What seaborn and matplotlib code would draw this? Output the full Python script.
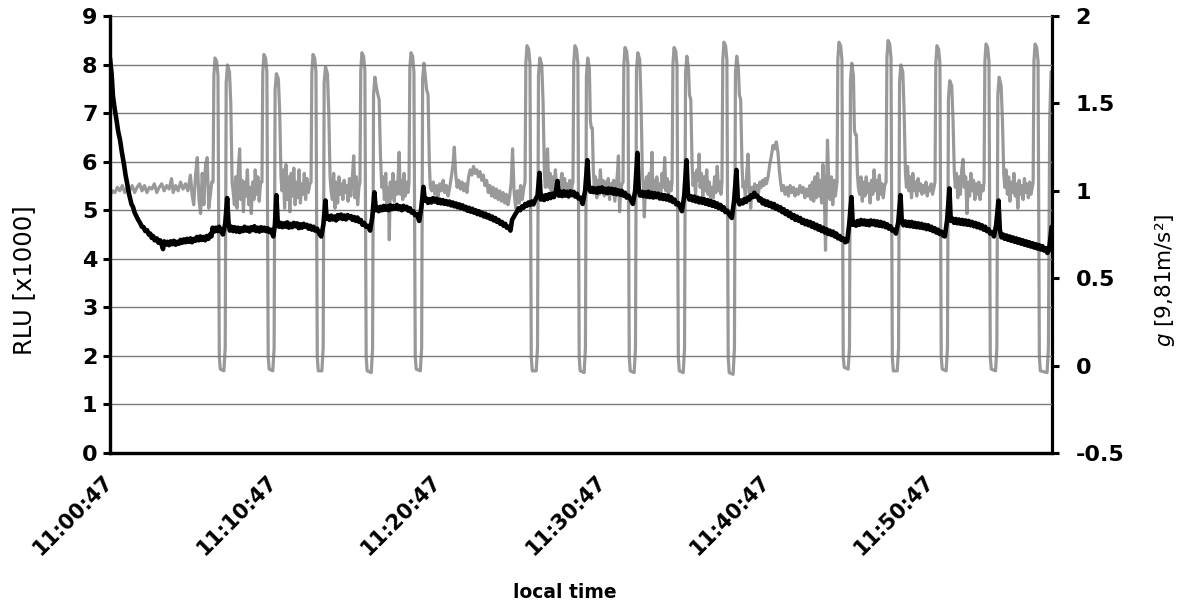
import matplotlib
matplotlib.use("Agg")
import matplotlib.pyplot as plt
import seaborn as sns
import pandas as pd

# ---------------- data ----------------
# time axis: minutes after 11:00:47
tick_minutes = [0, 10, 20, 30, 40, 50]
tick_labels = ["11:00:47", "11:10:47", "11:20:47", "11:30:47", "11:40:47", "11:50:47"]

# RLU [x1000] (black, left axis): (minutes, value)
rlu_points = [
    (0.00, 8.13), (0.10, 7.80), (0.18, 7.35), (0.28, 7.10), (0.40, 6.85), (0.50, 6.62), (0.61, 6.45),
    (0.72, 6.20), (0.85, 5.95), (0.95, 5.72), (1.04, 5.56), (1.13, 5.38), (1.22, 5.25), (1.31, 5.12),
    (1.40, 5.07), (1.50, 4.95), (1.60, 4.88), (1.72, 4.80), (1.83, 4.74), (1.94, 4.66), (2.05, 4.65),
    (2.15, 4.57), (2.26, 4.59), (2.36, 4.50), (2.45, 4.52), (2.54, 4.43), (2.62, 4.47), (2.72, 4.38),
    (2.85, 4.42), (2.95, 4.33), (3.05, 4.38), (3.14, 4.30), (3.23, 4.20), (3.30, 4.36), (3.40, 4.29),
    (3.50, 4.35), (3.60, 4.28), (3.70, 4.36), (3.80, 4.30), (3.90, 4.37), (4.00, 4.29), (4.10, 4.35),
    (4.20, 4.31), (4.30, 4.39), (4.40, 4.33), (4.50, 4.40), (4.60, 4.34), (4.70, 4.41), (4.80, 4.35),
    (4.90, 4.42), (5.00, 4.34), (5.10, 4.41), (5.20, 4.37), (5.30, 4.45), (5.40, 4.38), (5.50, 4.46),
    (5.60, 4.39), (5.70, 4.45), (5.80, 4.38), (5.90, 4.47), (6.00, 4.41), (6.10, 4.50), (6.18, 4.46),
    (6.25, 4.64), (6.35, 4.56), (6.45, 4.64), (6.55, 4.57), (6.65, 4.66), (6.75, 4.58),
    (6.88, 4.50), (7.02, 4.72), (7.14, 5.25), (7.22, 4.75),
    (7.30, 4.58), (7.40, 4.66), (7.50, 4.57), (7.60, 4.65), (7.70, 4.56), (7.80, 4.64), (7.90, 4.55),
    (8.00, 4.63), (8.10, 4.57), (8.20, 4.66), (8.30, 4.58), (8.40, 4.64), (8.50, 4.56), (8.60, 4.65),
    (8.70, 4.59), (8.80, 4.67), (8.90, 4.57), (9.00, 4.64), (9.10, 4.56), (9.20, 4.65), (9.30, 4.58),
    (9.40, 4.64), (9.50, 4.57), (9.60, 4.63), (9.70, 4.55), (9.80, 4.60),
    (9.95, 4.46), (10.05, 4.70), (10.14, 5.31), (10.22, 4.75),
    (10.30, 4.66), (10.40, 4.74), (10.50, 4.65), (10.60, 4.73), (10.70, 4.66), (10.80, 4.75),
    (10.90, 4.64), (11.00, 4.72), (11.10, 4.65), (11.20, 4.74), (11.30, 4.67), (11.40, 4.73),
    (11.50, 4.63), (11.60, 4.71), (11.70, 4.64), (11.80, 4.72), (11.90, 4.66), (12.00, 4.70),
    (12.10, 4.62), (12.20, 4.68), (12.30, 4.60), (12.40, 4.66), (12.50, 4.58), (12.62, 4.62),
    (12.74, 4.52),
    (12.87, 4.46), (13.00, 4.70), (13.13, 5.20), (13.20, 4.82),
    (13.28, 4.88), (13.38, 4.80), (13.48, 4.89), (13.58, 4.81), (13.68, 4.87), (13.78, 4.79),
    (13.88, 4.90), (13.98, 4.83), (14.08, 4.91), (14.18, 4.82), (14.28, 4.89), (14.38, 4.81),
    (14.48, 4.90), (14.58, 4.84), (14.68, 4.88), (14.78, 4.80), (14.88, 4.86), (14.98, 4.78),
    (15.08, 4.85), (15.18, 4.76), (15.28, 4.80), (15.38, 4.70), (15.48, 4.74), (15.60, 4.66),
    (15.72, 4.68),
    (15.85, 4.58), (15.98, 4.85), (16.11, 5.37), (16.20, 5.00),
    (16.28, 5.06), (16.38, 4.98), (16.48, 5.07), (16.58, 5.00), (16.68, 5.09), (16.78, 5.01),
    (16.88, 5.08), (16.98, 5.00), (17.08, 5.10), (17.18, 5.02), (17.28, 5.09), (17.38, 5.03),
    (17.48, 5.11), (17.58, 5.02), (17.68, 5.08), (17.78, 5.00), (17.88, 5.09), (17.98, 5.02),
    (18.08, 5.07), (18.18, 4.99), (18.28, 5.04), (18.38, 4.95), (18.48, 4.98), (18.58, 4.90),
    (18.70, 4.92),
    (18.84, 4.78), (18.97, 5.05), (19.10, 5.48), (19.18, 5.20),
    (19.28, 5.24), (19.38, 5.15), (19.48, 5.23), (19.58, 5.16), (19.68, 5.25), (19.78, 5.18),
    (19.88, 5.24), (19.98, 5.15), (20.08, 5.22), (20.18, 5.14), (20.28, 5.21), (20.38, 5.13),
    (20.48, 5.19), (20.58, 5.12), (20.68, 5.18), (20.78, 5.10), (20.88, 5.16), (20.98, 5.08),
    (21.08, 5.14), (21.18, 5.06), (21.28, 5.12), (21.38, 5.04), (21.48, 5.10), (21.58, 5.02),
    (21.68, 5.07), (21.78, 4.99), (21.88, 5.05), (21.98, 4.97), (22.08, 5.03), (22.18, 4.95),
    (22.28, 5.00), (22.38, 4.92), (22.48, 4.98), (22.58, 4.90), (22.68, 4.95), (22.78, 4.87),
    (22.88, 4.93), (22.98, 4.85), (23.08, 4.90), (23.18, 4.82), (23.28, 4.87), (23.38, 4.79),
    (23.48, 4.84), (23.58, 4.76), (23.68, 4.80), (23.78, 4.72), (23.88, 4.76), (23.98, 4.68),
    (24.08, 4.72), (24.18, 4.64), (24.28, 4.66), (24.40, 4.58), (24.50, 4.80), (24.60, 4.86),
    (24.70, 4.92), (24.80, 4.97), (24.90, 5.04), (25.00, 5.00), (25.10, 5.08), (25.20, 5.05),
    (25.30, 5.13), (25.40, 5.09), (25.50, 5.16), (25.60, 5.11), (25.70, 5.18), (25.80, 5.12),
    (25.92, 5.22),
    (26.05, 5.30), (26.17, 5.77), (26.25, 5.22),
    (26.35, 5.30), (26.45, 5.21), (26.55, 5.31), (26.65, 5.23), (26.75, 5.33), (26.85, 5.25),
    (26.95, 5.34), (27.05, 5.27), (27.18, 5.40), (27.26, 5.60), (27.35, 5.30), (27.45, 5.38),
    (27.55, 5.29), (27.65, 5.39), (27.75, 5.30), (27.85, 5.38), (27.95, 5.29), (28.05, 5.39),
    (28.15, 5.31), (28.25, 5.38), (28.35, 5.28), (28.45, 5.34), (28.55, 5.24), (28.68, 5.26),
    (28.80, 5.13), (28.95, 5.40), (29.09, 6.03), (29.18, 5.45),
    (29.28, 5.38), (29.38, 5.46), (29.48, 5.37), (29.58, 5.45), (29.68, 5.36), (29.78, 5.46),
    (29.88, 5.38), (29.98, 5.47), (30.08, 5.37), (30.18, 5.44), (30.28, 5.35), (30.38, 5.45),
    (30.48, 5.36), (30.58, 5.44), (30.68, 5.34), (30.78, 5.43), (30.88, 5.33), (30.98, 5.41),
    (31.08, 5.32), (31.18, 5.40), (31.28, 5.30), (31.38, 5.36), (31.48, 5.26), (31.60, 5.30),
    (31.72, 5.22),
    (31.86, 5.13), (32.00, 5.40), (32.14, 6.18), (32.22, 5.40),
    (32.30, 5.30), (32.40, 5.38), (32.50, 5.29), (32.60, 5.37), (32.70, 5.28), (32.80, 5.38),
    (32.90, 5.27), (33.00, 5.36), (33.10, 5.26), (33.20, 5.35), (33.30, 5.27), (33.40, 5.34),
    (33.50, 5.24), (33.60, 5.32), (33.70, 5.23), (33.80, 5.31), (33.90, 5.22), (34.00, 5.30),
    (34.10, 5.20), (34.20, 5.27), (34.30, 5.17), (34.40, 5.22), (34.50, 5.12), (34.62, 5.15),
    (34.74, 5.06),
    (34.85, 4.98), (34.99, 5.30), (35.13, 6.03), (35.22, 5.30),
    (35.30, 5.22), (35.40, 5.29), (35.50, 5.20), (35.60, 5.28), (35.70, 5.18), (35.80, 5.26),
    (35.90, 5.16), (36.00, 5.24), (36.10, 5.15), (36.20, 5.23), (36.30, 5.13), (36.40, 5.21),
    (36.50, 5.11), (36.60, 5.19), (36.70, 5.09), (36.80, 5.17), (36.90, 5.07), (37.00, 5.14),
    (37.10, 5.04), (37.20, 5.11), (37.30, 5.01), (37.40, 5.06), (37.50, 4.96), (37.62, 4.99),
    (37.75, 4.90),
    (37.89, 4.84), (38.03, 5.20), (38.17, 5.83), (38.26, 5.20),
    (38.36, 5.12), (38.46, 5.20), (38.56, 5.14), (38.66, 5.23), (38.76, 5.17), (38.86, 5.26),
    (38.96, 5.22), (39.06, 5.31), (39.16, 5.27), (39.26, 5.36), (39.36, 5.28), (39.46, 5.30),
    (39.56, 5.20), (39.66, 5.24), (39.76, 5.14), (39.86, 5.20), (39.96, 5.11), (40.06, 5.18),
    (40.16, 5.09), (40.26, 5.15), (40.36, 5.06), (40.46, 5.13), (40.56, 5.03), (40.66, 5.09),
    (40.76, 5.00), (40.86, 5.06), (40.96, 4.96), (41.06, 5.02), (41.16, 4.92), (41.26, 4.98),
    (41.36, 4.88), (41.46, 4.94), (41.56, 4.84), (41.66, 4.90), (41.76, 4.80), (41.86, 4.87),
    (41.96, 4.78), (42.06, 4.84), (42.16, 4.74), (42.26, 4.80), (42.36, 4.71), (42.46, 4.78),
    (42.56, 4.69), (42.66, 4.76), (42.76, 4.66), (42.86, 4.73), (42.96, 4.63), (43.06, 4.70),
    (43.16, 4.60), (43.26, 4.67), (43.36, 4.57), (43.46, 4.64), (43.56, 4.54), (43.66, 4.61),
    (43.76, 4.51), (43.86, 4.58), (43.96, 4.49), (44.06, 4.56), (44.16, 4.46), (44.26, 4.52),
    (44.36, 4.42), (44.46, 4.47), (44.56, 4.39), (44.68, 4.42), (44.80, 4.34),
    (44.92, 4.36), (45.04, 4.70), (45.18, 5.27), (45.26, 4.70),
    (45.36, 4.76), (45.46, 4.68), (45.56, 4.78), (45.66, 4.70), (45.76, 4.80), (45.86, 4.71),
    (45.96, 4.79), (46.06, 4.70), (46.16, 4.78), (46.26, 4.69), (46.36, 4.79), (46.46, 4.71),
    (46.56, 4.78), (46.66, 4.69), (46.76, 4.77), (46.86, 4.68), (46.96, 4.76), (47.06, 4.67),
    (47.16, 4.74), (47.26, 4.65), (47.36, 4.71), (47.46, 4.62), (47.56, 4.67), (47.66, 4.58),
    (47.78, 4.60),
    (47.89, 4.52), (48.03, 4.75), (48.17, 5.31), (48.25, 4.75),
    (48.35, 4.69), (48.45, 4.77), (48.55, 4.68), (48.65, 4.76), (48.75, 4.67), (48.85, 4.76),
    (48.95, 4.66), (49.05, 4.74), (49.15, 4.65), (49.25, 4.73), (49.35, 4.64), (49.45, 4.72),
    (49.55, 4.63), (49.65, 4.70), (49.75, 4.61), (49.85, 4.69), (49.95, 4.60), (50.05, 4.66),
    (50.15, 4.57), (50.25, 4.63), (50.35, 4.54), (50.45, 4.60), (50.55, 4.51), (50.65, 4.56),
    (50.76, 4.48),
    (50.87, 4.46), (51.01, 4.80), (51.15, 5.45), (51.23, 4.78),
    (51.33, 4.83), (51.43, 4.74), (51.53, 4.82), (51.63, 4.73), (51.73, 4.81), (51.83, 4.72),
    (51.93, 4.80), (52.03, 4.71), (52.13, 4.79), (52.23, 4.70), (52.33, 4.78), (52.43, 4.69),
    (52.53, 4.76), (52.63, 4.67), (52.73, 4.74), (52.83, 4.65), (52.93, 4.72), (53.03, 4.63),
    (53.13, 4.69), (53.23, 4.60), (53.33, 4.66), (53.43, 4.57), (53.53, 4.61), (53.63, 4.52),
    (53.75, 4.55),
    (53.86, 4.46), (54.00, 4.70), (54.14, 5.20), (54.22, 4.60),
    (54.32, 4.44), (54.42, 4.50), (54.52, 4.41), (54.62, 4.48), (54.72, 4.39), (54.82, 4.46),
    (54.92, 4.37), (55.02, 4.44), (55.12, 4.35), (55.22, 4.42), (55.32, 4.33), (55.42, 4.40),
    (55.52, 4.31), (55.62, 4.38), (55.72, 4.29), (55.82, 4.36), (55.92, 4.27), (56.02, 4.34),
    (56.12, 4.25), (56.22, 4.32), (56.32, 4.23), (56.42, 4.30), (56.52, 4.21), (56.62, 4.28),
    (56.72, 4.19), (56.82, 4.26), (56.92, 4.17), (57.02, 4.22), (57.12, 4.12), (57.22, 4.18),
    (57.38, 4.66),
]
rlu_time = [p[0] for p in rlu_points]
rlu_value = [p[1] for p in rlu_points]

# acceleration g [9,81 m/s^2] (grey, right axis)
g_time = [
    0.00, 0.15, 0.30, 0.45, 0.60, 0.75, 0.90, 1.05, 1.20, 1.35, 1.50, 1.65, 1.80, 1.95, 2.10, 2.25,
    2.40, 2.55, 2.70, 2.85, 3.00, 3.15, 3.30, 3.45, 3.60, 3.75, 3.85, 4.00, 4.15, 4.30, 4.45, 4.60,
    4.75, 4.90, 5.00, 5.10, 5.22, 5.32, 5.42, 5.52, 5.62, 5.72, 5.82, 5.92, 6.02, 6.12, 6.20,
    # event 1
    6.28, 6.33, 6.40, 6.50, 6.58, 6.66, 6.72, 6.94, 7.02, 7.08, 7.16, 7.28, 7.36, 7.44, 7.50,
    7.58, 7.66, 7.74, 7.82, 7.90, 7.97, 8.05, 8.13, 8.21, 8.29, 8.37, 8.45, 8.53, 8.61, 8.69,
    8.77, 8.85, 8.93, 9.01, 9.09, 9.18,
    # event 2
    9.26, 9.31, 9.38, 9.48, 9.56, 9.64, 9.70, 9.92, 10.00, 10.06, 10.14, 10.26, 10.34, 10.42, 10.48,
    10.56, 10.64, 10.72, 10.80, 10.88, 10.96, 11.04, 11.12, 11.20, 11.28, 11.36, 11.44, 11.52,
    11.60, 11.68, 11.76, 11.84, 11.92, 12.00, 12.08, 12.18,
    # event 3
    12.25, 12.30, 12.37, 12.47, 12.55, 12.63, 12.69, 12.91, 12.99, 13.05, 13.13, 13.25, 13.33, 13.41, 13.47,
    13.55, 13.63, 13.71, 13.79, 13.87, 13.95, 14.03, 14.11, 14.19, 14.27, 14.35, 14.43, 14.51,
    14.59, 14.67, 14.75, 14.85, 14.93, 15.01, 15.09, 15.17,
    # event 4
    15.23, 15.28, 15.35, 15.45, 15.53, 15.61, 15.67, 15.92, 16.00, 16.06, 16.14, 16.22, 16.30, 16.40, 16.48, 16.56,
    16.64, 16.72, 16.80, 16.88, 16.96, 17.02, 17.08, 17.16, 17.24, 17.32, 17.40, 17.48, 17.56,
    17.62, 17.68, 17.76, 17.84, 17.92, 18.00, 18.08, 18.16,
    # event 5
    18.22, 18.27, 18.34, 18.44, 18.52, 18.60, 18.66, 18.91, 18.99, 19.05, 19.13, 19.21, 19.29, 19.38, 19.46, 19.52,
    19.60, 19.70, 19.80, 19.90, 20.00, 20.10, 20.20, 20.30, 20.40, 20.50, 20.60, 20.70, 20.80,
    20.90, 20.98, 21.06, 21.15, 21.25, 21.35, 21.45, 21.55, 21.65, 21.75, 21.85, 21.95, 22.05,
    22.15, 22.25, 22.35, 22.45, 22.55, 22.65, 22.75, 22.85, 22.95, 23.05, 23.15, 23.25, 23.35,
    23.45, 23.55, 23.65, 23.75, 23.85, 23.95, 24.05, 24.15, 24.25, 24.35, 24.45, 24.53, 24.62,
    24.72, 24.82, 24.92, 25.02, 25.12, 25.22,
    # event 6
    25.29, 25.34, 25.41, 25.51, 25.59, 25.67, 25.73, 25.97, 26.05, 26.11, 26.19, 26.31, 26.39, 26.47, 26.53,
    26.60, 26.66, 26.74, 26.82, 26.90, 26.98, 27.06, 27.14, 27.22, 27.30, 27.38, 27.46, 27.54,
    27.62, 27.70, 27.78, 27.86, 27.94, 28.02, 28.10, 28.16,
    # event 7
    28.21, 28.26, 28.33, 28.43, 28.51, 28.59, 28.65, 28.89, 28.97, 29.03, 29.11, 29.21, 29.27, 29.33, 29.39, 29.45, 29.51,
    29.58, 29.66, 29.74, 29.82, 29.88, 29.96, 30.04, 30.12, 30.20, 30.28, 30.36, 30.44, 30.52,
    30.60, 30.68, 30.76, 30.84, 30.92, 30.98, 31.05, 31.12, 31.20,
    # event 8
    31.26, 31.31, 31.38, 31.48, 31.56, 31.64, 31.70, 31.94, 32.02, 32.08, 32.16, 32.28, 32.36, 32.44, 32.50,
    32.56, 32.62, 32.70, 32.78, 32.86, 32.94, 33.02, 33.08, 33.16, 33.24, 33.32, 33.40, 33.48,
    33.56, 33.64, 33.72, 33.80, 33.87, 33.95, 34.03, 34.11, 34.19,
    # event 9
    34.25, 34.30, 34.37, 34.47, 34.55, 34.63, 34.69, 34.93, 35.01, 35.07, 35.15, 35.25, 35.31, 35.39, 35.47, 35.53,
    35.60, 35.68, 35.76, 35.84, 35.90, 35.96, 36.04, 36.12, 36.20, 36.28, 36.36, 36.44, 36.52,
    36.60, 36.68, 36.76, 36.84, 36.92, 37.00, 37.08, 37.16, 37.23,
    # event 10
    37.29, 37.34, 37.41, 37.51, 37.59, 37.67, 37.73, 37.97, 38.05, 38.11, 38.19, 38.29, 38.35, 38.43, 38.51, 38.57,
    38.64, 38.72, 38.80, 38.88, 38.96, 39.04, 39.12, 39.20, 39.28, 39.36, 39.44, 39.52, 39.60,
    39.68, 39.76, 39.84, 39.92, 40.00, 40.10, 40.20, 40.30, 40.40, 40.50, 40.60, 40.70, 40.78,
    40.86, 40.94, 41.04, 41.14, 41.24, 41.34, 41.44, 41.54, 41.64, 41.74, 41.84, 41.94, 42.04,
    42.14, 42.24, 42.34, 42.44, 42.54, 42.64, 42.72, 42.80, 42.88, 42.96, 43.04, 43.12, 43.20,
    43.28, 43.36, 43.44, 43.52, 43.60, 43.66, 43.72, 43.80, 43.88, 43.96, 44.04, 44.12, 44.20, 44.26,
    # event 11
    44.30, 44.35, 44.42, 44.52, 44.60, 44.68, 44.74, 44.98, 45.06, 45.12, 45.20, 45.30, 45.36, 45.42, 45.48, 45.54, 45.60,
    45.68, 45.76, 45.84, 45.92, 46.00, 46.08, 46.16, 46.24, 46.32, 46.40, 46.48, 46.56, 46.64,
    46.72, 46.80, 46.88, 46.96, 47.04, 47.12, 47.20,
    # event 12
    47.29, 47.34, 47.41, 47.51, 47.59, 47.67, 47.73, 47.97, 48.05, 48.11, 48.19, 48.31, 48.39, 48.47, 48.53,
    48.60, 48.68, 48.76, 48.84, 48.92, 49.00, 49.08, 49.16, 49.24, 49.32, 49.40, 49.48, 49.56,
    49.64, 49.72, 49.80, 49.88, 49.96, 50.04, 50.12, 50.21,
    # event 13
    50.27, 50.32, 50.39, 50.49, 50.57, 50.65, 50.71, 50.95, 51.03, 51.09, 51.17, 51.29, 51.37, 51.45, 51.51,
    51.58, 51.66, 51.74, 51.82, 51.90, 51.98, 52.06, 52.14, 52.22, 52.30, 52.38, 52.46, 52.54,
    52.62, 52.70, 52.78, 52.86, 52.94, 53.02, 53.10, 53.20,
    # event 14
    53.26, 53.31, 53.38, 53.48, 53.56, 53.64, 53.70, 53.96, 54.04, 54.10, 54.18, 54.30, 54.38, 54.46, 54.52,
    54.60, 54.68, 54.76, 54.84, 54.92, 55.00, 55.08, 55.16, 55.24, 55.32, 55.40, 55.48, 55.56,
    55.64, 55.72, 55.80, 55.88, 55.96, 56.04, 56.12, 56.20,
    # event 15
    56.25, 56.30, 56.37, 56.47, 56.55, 56.63, 56.69, 57.10, 57.18, 57.26, 57.34,
]
g_value = [
    0.97, 1.00, 0.99, 1.02, 1.00, 1.03, 0.99, 1.02, 1.00, 1.03, 0.99, 1.02, 1.04, 1.00, 1.03, 0.99,
    1.02, 1.01, 1.04, 0.99, 1.02, 1.04, 1.00, 1.03, 1.01, 1.07, 0.99, 1.03, 1.00, 1.05, 1.01, 1.04,
    1.00, 1.09, 0.98, 0.92, 1.10, 1.19, 0.95, 0.87, 1.10, 0.92, 1.15, 1.19, 0.90, 0.98, 1.05,
    # event 1
    1.05, 1.66, 1.76, 1.74, 1.66, 0.05, -0.02, -0.03, 0.10, 1.62, 1.72, 1.68, 1.50, 1.05, 1.00,
    0.92, 1.08, 0.90, 1.12, 1.24, 0.95, 1.06, 0.88, 1.05, 0.97, 1.12, 0.92, 1.02, 0.87, 1.05,
    0.95, 1.12, 0.98, 1.08, 0.94, 1.05,
    # event 2
    1.05, 1.68, 1.78, 1.76, 1.68, 0.05, -0.02, -0.03, 0.10, 1.58, 1.67, 1.64, 1.45, 1.08, 1.00,
    1.12, 0.90, 1.15, 0.95, 1.08, 0.88, 1.10, 0.97, 1.13, 0.92, 1.05, 0.96, 1.12,
    0.93, 1.04, 0.98, 1.10, 0.95, 1.07, 0.99, 1.04,
    # event 3
    1.05, 1.68, 1.78, 1.76, 1.68, 0.05, -0.03, -0.03, 0.10, 1.62, 1.71, 1.67, 1.45, 1.08, 1.00,
    0.95, 1.10, 0.90, 1.05, 0.93, 1.08, 0.98, 1.04, 0.95, 1.06, 0.99, 1.03, 0.94,
    1.07, 0.97, 1.05, 1.20, 0.96, 1.08, 0.92, 1.02,
    # event 4
    1.05, 1.69, 1.79, 1.77, 1.69, 0.05, -0.03, -0.04, 0.10, 1.55, 1.65, 1.60, 1.56, 1.52, 1.20, 1.02,
    1.08, 0.95, 1.10, 0.90, 1.02, 0.72, 1.05, 0.96, 1.10, 0.94, 1.05, 0.98, 1.08,
    1.22, 0.98, 1.06, 0.95, 1.10, 0.97, 1.05, 0.99,
    # event 5
    1.05, 1.70, 1.79, 1.77, 1.68, 0.05, -0.02, -0.03, 0.10, 1.64, 1.73, 1.66, 1.58, 1.55, 1.15, 1.02,
    1.00, 1.05, 0.98, 1.03, 0.97, 1.04, 1.00, 1.06, 0.99, 1.03, 0.97, 1.02, 1.08,
    1.15, 1.25, 1.10, 1.02, 1.06, 1.01, 1.05, 1.00, 1.04, 0.99, 1.08, 1.12, 1.09,
    1.14, 1.10, 1.12, 1.08, 1.11, 1.06, 1.09, 1.03, 1.06, 0.99, 1.03, 0.97, 1.02,
    0.96, 1.01, 0.95, 1.00, 0.94, 0.99, 0.93, 0.98, 0.92, 0.97, 1.05, 1.24, 1.00,
    0.90, 1.00, 0.93, 1.03, 0.95, 1.02,
    # event 6
    1.05, 1.73, 1.83, 1.81, 1.73, 0.05, -0.03, -0.03, 0.10, 1.66, 1.76, 1.72, 1.50, 1.10, 1.02,
    1.15, 1.24, 1.02, 1.10, 0.96, 1.08, 0.99, 1.12, 1.00, 1.06, 0.97, 1.05, 1.10,
    0.98, 1.07, 0.99, 1.04, 0.96, 1.06, 0.99, 1.03,
    # event 7
    1.05, 1.73, 1.83, 1.81, 1.73, 0.05, -0.03, -0.04, 0.10, 1.66, 1.76, 1.70, 1.40, 1.36, 1.36, 1.12, 1.02,
    1.08, 0.96, 1.06, 0.98, 1.12, 1.00, 1.06, 0.97, 1.05, 1.00, 1.07, 0.95, 1.04,
    0.99, 1.06, 0.94, 1.02, 1.10, 1.20, 0.88, 1.00, 1.04,
    # event 8
    1.05, 1.72, 1.82, 1.80, 1.72, 0.05, -0.03, -0.04, 0.10, 1.69, 1.79, 1.75, 1.50, 1.10, 1.02,
    0.85, 1.00, 1.08, 0.96, 1.10, 0.98, 1.22, 1.00, 1.06, 0.96, 1.08, 0.99, 1.04,
    0.97, 1.10, 1.02, 1.19, 1.00, 1.07, 0.97, 1.05, 1.00,
    # event 9
    1.05, 1.72, 1.82, 1.80, 1.72, 0.05, -0.03, -0.04, 0.10, 1.67, 1.77, 1.70, 1.55, 1.52, 1.15, 1.03,
    1.10, 0.98, 1.12, 1.06, 1.21, 1.02, 1.10, 0.97, 1.08, 1.00, 1.12, 0.98, 1.05,
    0.94, 1.02, 0.96, 1.08, 0.99, 1.14, 1.00, 1.05, 0.98,
    # event 10
    1.05, 1.75, 1.85, 1.83, 1.75, 0.05, -0.04, -0.05, 0.10, 1.67, 1.77, 1.70, 1.55, 1.52, 1.15, 1.02,
    1.05, 0.95, 1.10, 1.21, 1.00, 0.90, 1.02, 0.96, 1.04, 0.98, 1.03, 0.99, 1.05,
    1.02, 1.06, 1.03, 1.07, 1.04, 1.08, 1.15, 1.20, 1.26, 1.24, 1.28, 1.22, 1.12,
    1.05, 1.00, 1.03, 0.98, 1.02, 0.97, 1.03, 0.99, 1.02, 0.97, 1.01, 0.98, 1.03,
    0.99, 1.02, 0.96, 1.01, 0.97, 1.03, 0.95, 1.05, 0.94, 1.08, 0.96, 1.10, 0.97,
    1.06, 0.93, 1.15, 1.02, 0.66, 1.00, 1.29, 1.05, 0.95, 1.08, 0.92, 1.06, 0.97, 1.02,
    # event 11
    1.05, 1.75, 1.85, 1.83, 1.75, 0.05, -0.01, -0.02, 0.10, 1.63, 1.73, 1.66, 1.35, 1.32, 1.32, 1.10, 1.02,
    0.98, 1.08, 0.94, 1.05, 0.97, 1.08, 0.99, 1.04, 0.93, 1.06, 0.98, 1.12, 1.00,
    1.06, 0.95, 1.09, 0.98, 1.04, 0.96, 1.03,
    # event 12
    1.05, 1.76, 1.86, 1.84, 1.76, 0.05, -0.03, -0.03, 0.10, 1.62, 1.72, 1.68, 1.45, 1.10, 1.02,
    1.14, 1.00, 1.08, 0.96, 1.10, 1.00, 1.05, 0.97, 1.07, 1.00, 1.04, 0.98, 1.03,
    0.99, 1.05, 0.97, 1.02, 1.00, 1.04, 0.98, 1.02,
    # event 13
    1.05, 1.73, 1.83, 1.81, 1.73, 0.05, -0.02, -0.03, 0.10, 1.53, 1.63, 1.60, 1.40, 1.10, 1.02,
    1.10, 0.96, 1.08, 0.98, 1.12, 1.18, 1.02, 1.08, 0.87, 1.05, 0.97, 1.10, 1.00,
    1.06, 0.95, 1.04, 0.98, 1.05, 0.95, 1.03, 1.00,
    # event 14
    1.05, 1.74, 1.84, 1.82, 1.74, 0.05, -0.02, -0.03, 0.10, 1.55, 1.65, 1.60, 1.40, 1.10, 1.02,
    1.12, 0.98, 1.08, 0.94, 1.05, 0.99, 1.10, 0.97, 1.04, 0.90, 1.06, 0.98, 1.03,
    0.95, 1.07, 0.99, 1.04, 0.96, 1.05, 0.98, 1.02,
    # event 15
    1.05, 1.74, 1.84, 1.82, 1.74, 0.05, -0.03, -0.04, 0.10, 1.40, 1.68,
]

rlu_df = pd.DataFrame({"minutes": rlu_time, "RLU": rlu_value})
g_df = pd.DataFrame({"minutes": g_time, "g": g_value})

# ---------------- style ----------------
sns.set_style("white")
plt.rcParams["font.family"] = ["DejaVu Sans"]
plt.rcParams["axes.unicode_minus"] = False
plt.rcParams["mathtext.fontset"] = "dejavusans"
plt.rcParams["text.color"] = "black"
plt.rcParams["axes.labelcolor"] = "black"
plt.rcParams["xtick.color"] = "black"
plt.rcParams["ytick.color"] = "black"

fig = plt.figure(figsize=(11.84, 6.07), dpi=100)
ax = fig.add_axes([110 / 1184, 1 - 453 / 607, (1052 - 110) / 1184, (453 - 16) / 607])
ax2 = ax.twinx()

sns.lineplot(data=g_df, x="minutes", y="g", ax=ax2, color="#999999", linewidth=2.3,
             estimator=None, sort=False)
sns.lineplot(data=rlu_df, x="minutes", y="RLU", ax=ax, color="black", linewidth=3.3,
             estimator=None, sort=False)

# draw black series above the grey one
ax.set_zorder(ax2.get_zorder() + 1)
ax.patch.set_visible(False)

ax.set_xlim(0, 57.4)
ax.set_ylim(0, 9)
ax2.set_ylim(-0.5, 2)

ax.set_yticks(range(0, 10))
ax.set_yticklabels([str(v) for v in range(0, 10)])
ax2.set_yticks([-0.5, 0, 0.5, 1, 1.5, 2])
ax2.set_yticklabels(["-0.5", "0", "0.5", "1", "1.5", "2"])
ax.set_xticks(tick_minutes)
ax.set_xticklabels(tick_labels, rotation=45, ha="right", va="center",
                   rotation_mode="anchor")

ax.grid(axis="y", color="#7a7a7a", linewidth=1.0)
ax.grid(axis="x", visible=False)
ax2.grid(False)

for a in (ax, ax2):
    a.spines["top"].set_visible(False)
    for s in ("left", "right", "bottom"):
        a.spines[s].set_linewidth(2.3)
        a.spines[s].set_color("black")
ax.spines["right"].set_visible(False)

ax.tick_params(axis="y", direction="out", length=5, width=2.2, pad=4,
               labelsize=16, colors="black")
ax.tick_params(axis="x", direction="out", length=5, width=2.2, pad=13,
               labelsize=15, colors="black")
ax2.tick_params(axis="y", direction="out", length=5, width=2.2, pad=12,
                labelsize=16, colors="black")
for lab in ax.get_yticklabels() + ax.get_xticklabels() + ax2.get_yticklabels():
    lab.set_fontweight("bold")

ax.set_xlabel("")
ax.set_ylabel("")
ax2.set_ylabel("")

fig.text(24 / 1184, 1 - 280 / 607, "RLU [x1000]", rotation=90, ha="center", va="center",
         fontsize=17.5, color="black")
fig.text(1165 / 1184, 1 - 280 / 607, r"$g$ [9,81m/s²]", rotation=90, ha="center",
         va="center", fontsize=15.5, color="black")
fig.text(565 / 1184, 1 - 592 / 607, "local time", ha="center", va="center",
         fontsize=13.5, fontweight="bold", color="black")

fig.savefig("out.png", dpi=100)
